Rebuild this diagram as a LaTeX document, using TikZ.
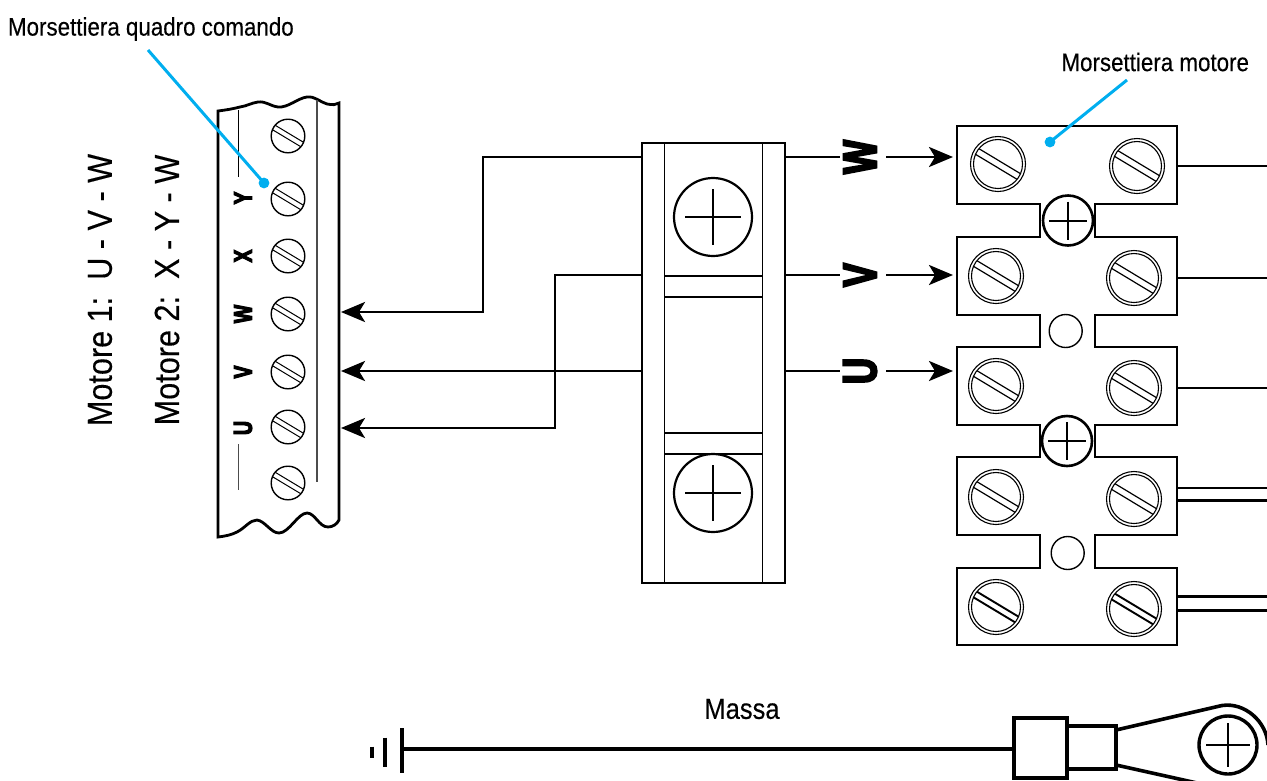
\documentclass[tikz,border=0pt]{standalone}
\usepackage{fontspec}
\setmainfont{Liberation Sans}[FakeStretch=0.88,FakeBold=0.25]
\newfontfamily\heavyfont{Liberation Sans Bold}[FakeStretch=0.75,FakeBold=4]
\usetikzlibrary{arrows.meta}
\definecolor{leader}{HTML}{00AEEF}
\newcommand{\lblfont}[1]{\fontsize{#1}{#1}\selectfont}
\tikzset{
  every node/.style={inner sep=0pt,outer sep=0pt},
  wire/.style={line width=2.9pt,black,line join=miter},
  inwire/.style={wire,-{Stealth[length=24pt,width=20pt,inset=6pt]}},
  outline/.style={line width=2.8pt,black,line join=miter},
  thinline/.style={line width=1.4pt,black},
  greyline/.style={line width=1.5pt,black!70},
  bluelead/.style={line width=3pt,leader},
  labeltext/.style={font=\lblfont{25.4}},
  sidetext/.style={font=\lblfont{34.8},rotate=90},
  bigletter/.style={font=\heavyfont\lblfont{48},rotate=90},
  smallletter/.style={font=\heavyfont\lblfont{26},rotate=90},
  pics/smallscrew/.style={code={
    \draw[thinline] (0,0) circle (16.8);
    \begin{scope}[rotate=-31]
      \draw[line width=1pt] (-16.4,-2.6) -- (16.4,-2.6);
      \draw[line width=1pt] (-16.4,2.6) -- (16.4,2.6);
    \end{scope}}},
  pics/bigscrew/.style={code={
    \draw[line width=1.1pt] (0,0) circle (27.5);
    \draw[line width=1.1pt] (0,0) circle (24.5);
    \begin{scope}[rotate=-31]
      \draw[line width=#1] (-24.2,-3.3) -- (24.2,-3.3);
      \draw[line width=#1] (-24.2,3.3) -- (24.2,3.3);
    \end{scope}}},
  pics/plusscrew/.style args={#1/#2/#3}{code={
    \draw[line width=#3,fill=white] (0,0) circle (#1);
    \draw[line width=2pt] (-#2,0) -- (#2,0) (0,-#2) -- (0,#2);}},
}
\begin{document}
\begin{tikzpicture}[x=1pt,y=-1pt]
\useasboundingbox (0,0) rectangle (1267,780);
\clip (0,0) rectangle (1267,780);

% --- Control panel terminal strip
\draw[outline] (339,103) .. controls (336,105) and (333,105) .. (327,104)
  .. controls (320,102) and (315,96) .. (307,97)
  .. controls (298,98) and (288,108) .. (278,107)
  .. controls (270,106) and (266,101) .. (258,102)
  .. controls (251,103) and (247,106) .. (240,107)
  .. controls (232,109) and (226,110) .. (218,111)
  -- (218,537)
  .. controls (226,536) and (231,535) .. (237,532)
  .. controls (245,528) and (250,520) .. (257,520)
  .. controls (265,521) and (271,533) .. (279,533)
  .. controls (289,533) and (298,513) .. (307,513)
  .. controls (315,513) and (319,527) .. (328,527)
  .. controls (333,527) and (337,524) .. (339,520)
  -- cycle;
\draw[greyline] (317,100) -- (317,482);
\draw[line width=1.1pt] (238.5,110) -- (238.5,177);
\draw[greyline] (238.5,444) -- (238.5,490);
\foreach \yy in {136,199,256,314,372,427,483}
  \pic at (288,\yy) {smallscrew};
\node[smallletter] (lY) at (243,198) {Y};
\node[smallletter] (lX) at (243,256) {X};
\node[smallletter] (lW) at (243,314) {W};
\node[smallletter] (lV) at (243,372) {V};
\node[smallletter] (lU) at (243,428) {U};

\node[sidetext] (m1) at (100,290) {Motore 1:\ \ U - V - W};
\node[sidetext] (m2) at (167,290) {Motore 2:\ \ X - Y - W};

% --- Centre block
\draw[line width=2pt] (642,143) rectangle (785,583);
\draw[line width=1.6pt] (664.5,143) -- (664.5,583) (762.5,143) -- (762.5,583);
\draw[line width=1.1pt] (664.5,276) -- (762.5,276) (664.5,433) -- (762.5,433);
\draw[line width=1.5pt] (664.5,297) -- (762.5,297) (664.5,454) -- (762.5,454);
\pic at (713,217) {plusscrew={39/28/2.2pt}};
\pic at (713,493) {plusscrew={39/28/2.2pt}};

\coordinate (bl1) at (642,157);
\coordinate (bl2) at (642,275);
\coordinate (bl3) at (642,371);
\coordinate (br1) at (785,157);
\coordinate (br2) at (785,275);
\coordinate (br3) at (785,371);
\coordinate (tW) at (341,312);
\coordinate (tV) at (341,371);
\coordinate (tU) at (341,428);
\draw[inwire] (bl1) -- (483,157) -- (483,312) -- (tW);
\draw[inwire] (bl3) -- (tV);
\draw[inwire] (bl2) -- (555,275) -- (555,428) -- (tU);

% --- Motor letters and wires
\node[bigletter] (bW) at (860,157) {W};
\node[bigletter] (bV) at (860,275) {V};
\node[bigletter] (bU) at (860,371) {U};
\coordinate (aW) at (953,157);
\coordinate (aV) at (953,275);
\coordinate (aU) at (953,371);
\coordinate (gW) at (886,157);
\coordinate (gV) at (886,275);
\coordinate (gU) at (886,371);
\coordinate (eW) at (840,157);
\coordinate (eV) at (840,275);
\coordinate (eU) at (840,371);
\draw[wire] (br1) -- (eW);
\draw[wire] (br2) -- (eV);
\draw[wire] (br3) -- (eU);
\draw[inwire] (gW) -- (aW);
\draw[inwire] (gV) -- (aV);
\draw[inwire] (gU) -- (aU);

% --- Motor terminal block
\draw[outline] (1040,237) -- (957,237) -- (957,315) -- (1040,315) -- (1040,347) -- (957,347) -- (957,425) -- (1040,425) -- (1040,457) -- (957,457) -- (957,535) -- (1040,535) -- (1040,568) -- (957,568) -- (957,645) -- (1177,645) -- (1177,568) -- (1095,568) -- (1095,535) -- (1177,535) -- (1177,457) -- (1095,457) -- (1095,425) -- (1177,425) -- (1177,347) -- (1095,347) -- (1095,315) -- (1177,315) -- (1177,237) -- (1095,237) -- (1095,204) -- (1177,204) -- (1177,126) -- (957,126) -- (957,204) -- (1040,204) -- cycle;
\pic at (1068,220.5) {plusscrew={25/19/2.6pt}};
\pic at (1067,441) {plusscrew={25/19/2.6pt}};
\draw[thinline] (1065.7,331) circle (16.5);
\draw[thinline] (1067.7,553) circle (16.5);
\pic at (998,164) {bigscrew=1.2pt};
\pic at (1137,166) {bigscrew=1.2pt};
\pic at (996,276) {bigscrew=1.2pt};
\pic at (1134,278) {bigscrew=1.2pt};
\pic at (996,386) {bigscrew=1.2pt};
\pic at (1134,388) {bigscrew=1.2pt};
\pic at (996,497) {bigscrew=1.2pt};
\pic at (1134,499) {bigscrew=1.2pt};
\pic at (996,607) {bigscrew=1.9pt};
\pic at (1134,609) {bigscrew=1.9pt};

\foreach \yy/\nn in {166/a,278/b,388/c,488/d,500.7/e,596.7/f,610.7/g}{
  \coordinate (ws\nn) at (1177,\yy);
  \coordinate (we\nn) at (1267,\yy);
  \draw[wire] (ws\nn) -- (we\nn);
}

% --- Leaders and labels
\node[labeltext,anchor=west] (labA) at (8,29) {Morsettiera quadro comando};
\node[labeltext,anchor=east] (labB) at (1249,62) {Morsettiera motore};
\coordinate (leadA) at (148,50);
\coordinate (dotA) at (264,183);
\coordinate (leadB) at (1127,80);
\coordinate (dotB) at (1050,142);
\draw[bluelead] (leadA) -- (dotA);
\fill[leader] (dotA) circle (5.4);
\draw[bluelead] (leadB) -- (dotB);
\fill[leader] (dotB) circle (5.4);

% --- Earth lead
\node[font=\lblfont{29}] (massa) at (742,709) {Massa};
\coordinate (gnd) at (402,749);
\draw[line width=4pt] (402,728) -- (402,772.7);
\draw[line width=4pt] (385,737.7) -- (385,766.7);
\draw[line width=4pt] (372,746.7) -- (372,757.7);
\draw[line width=4pt,fill=white] (1014,718) rectangle (1067,778);
\draw[line width=4pt,fill=white] (1067,726) rectangle (1116,769);
\coordinate (lugL) at (1014,749);
\draw[line width=3.6pt] (gnd) -- (lugL);
\draw[line width=3.6pt] (1116,730) -- (1222,705.5)
  .. controls (1245,702) and (1267,722) .. (1268,745);
\draw[line width=3.6pt] (1116,765) -- (1215,787);
\pic at (1228,745) {plusscrew={29/22/3.4pt}};
\end{tikzpicture}
\end{document}
